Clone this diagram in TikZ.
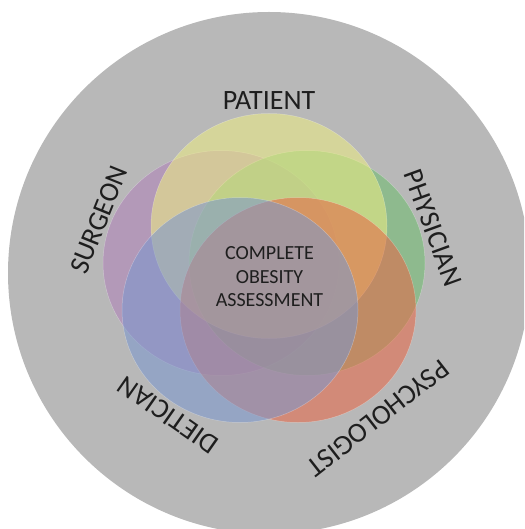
\documentclass[tikz,border=0pt]{standalone}
\usepackage{fontspec}
\setmainfont{Carlito}

\definecolor{backdrop}{HTML}{B8B8B8}
\definecolor{ink}{HTML}{1E1E1E}
\definecolor{patientfill}{HTML}{EEEE82}
\definecolor{surgeonfill}{HTML}{AF81B8}
\definecolor{physicianfill}{HTML}{6DBD6D}
\definecolor{dieticianfill}{HTML}{7A97CE}
\definecolor{psychfill}{HTML}{E96644}

\begin{document}
\begin{tikzpicture}[
  x=1pt, y=-1pt,
  ring/.style={fill opacity=0.55, draw=white, draw opacity=0.3, line width=0.5pt},
  role/.style={font=\fontsize{28}{30}\selectfont, text=ink, inner sep=0pt},
  core/.style={font=\fontsize{20}{23.5}\selectfont, text=ink, align=center, inner sep=0pt},
]

\useasboundingbox (0,0) rectangle (524,529);

% ── the grey disc behind everything ───────────────────────────────────────
\begin{scope}
  \clip (0,0) rectangle (524,529);
  \fill[backdrop] (269,273) circle (261pt);
\end{scope}

% ── five see-through rings, one per member of the team ────────────────────
\foreach \c/\x/\y in {surgeonfill/221/263, physicianfill/307/263,
                      patientfill/269/226, psychfill/298/310,
                      dieticianfill/240/310} {
  \filldraw[ring, fill=\c] (\x,\y) ellipse [x radius=118pt, y radius=112.5pt];
}

% ── who they are, set round the rings ─────────────────────────────────────
\node[role] (patient) at (269,101) {PATIENT};
\node[role, rotate=68] (surgeon) at (99,220) {SURGEON};
\node[role, rotate=-70] (physician) at (433,228) {PHYSICIAN};
\node[role, rotate=145] (dietician) at (168,415) {DIETICIAN};
\node[role, rotate=-142] (psychologist) at (378,418) {PSYCHOLOGIST};

% what they add up to
\node[core] (assessment) at (269.5,277) {COMPLETE\\OBESITY\\ASSESSMENT};

\end{tikzpicture}
\end{document}
